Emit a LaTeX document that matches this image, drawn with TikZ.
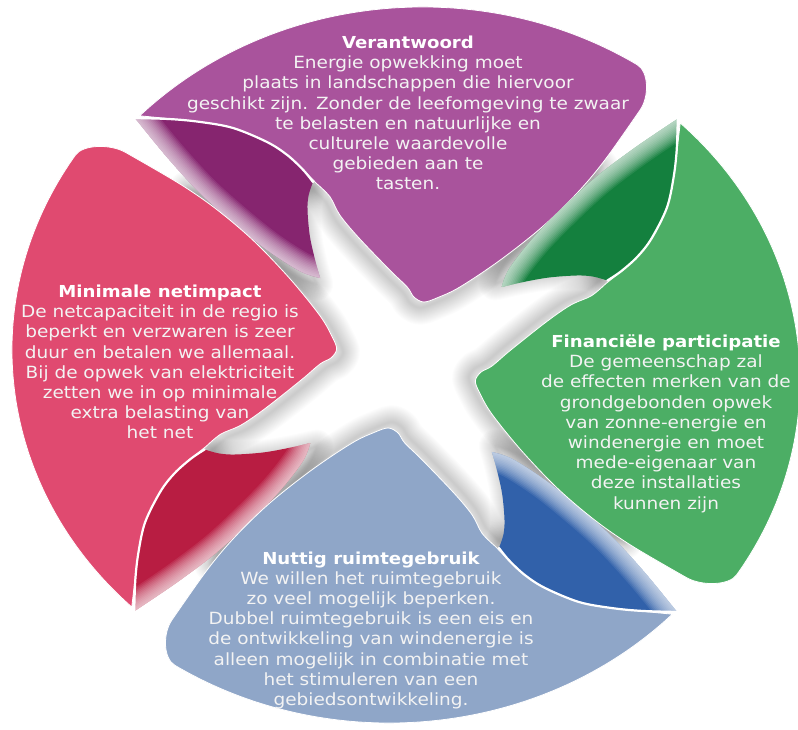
\documentclass[tikz,border=0pt]{standalone}
\usepackage{fontspec}
\setmainfont{DejaVu Sans}[FakeStretch=1.1]
\definecolor{pbody}{HTML}{A9539C}
\definecolor{pcurl}{HTML}{86256F}
\definecolor{gbody}{HTML}{4CAE65}
\definecolor{gcurl}{HTML}{14803E}
\definecolor{rbody}{HTML}{E04A70}
\definecolor{rcurl}{HTML}{B81D42}
\definecolor{bbody}{HTML}{8FA6C8}
\definecolor{bcurl}{HTML}{3161AA}
\definecolor{txtcol}{HTML}{F3F3F3}
\tikzset{
  bodytxt/.style={text=txtcol, font=\fontsize{16.8}{20.2}\selectfont, inner sep=0pt},
  headtxt/.style={text=white, font=\fontsize{16.5}{20.2}\selectfont\bfseries, inner sep=0pt},
  smoothline/.style={smooth, tension=0.55}
}
% petal template (normalized frame, purple orientation)
\newcommand\bodypath[1]{%
  \path[#1] (-0.676,0.696) arc[start angle=135.9, end angle=57, radius=1.0]
    .. controls (0.616,0.820) and (0.618,0.750) .. (0.594,0.712)
    -- plot[smoothline] coordinates {(0.594,0.712) (0.505,0.573) (0.434,0.480) (0.345,0.385) (0.239,0.293) (0.137,0.218) (0.08,0.188) (0.045,0.176) (0.02,0.19) (0.003,0.218) (-0.041,0.265) (-0.122,0.358) (-0.168,0.419) (-0.193,0.470) (-0.226,0.506)}
    -- plot[smoothline] coordinates {(-0.226,0.506) (-0.261,0.545) (-0.302,0.587) (-0.353,0.623) (-0.439,0.662) (-0.523,0.679) (-0.676,0.696)}
    -- cycle;}
\newcommand\curlpath[1]{%
  \path[#1] (-0.688,0.690)
    -- plot[smoothline] coordinates {(-0.688,0.690) (-0.600,0.687) (-0.523,0.679) (-0.439,0.662) (-0.353,0.623) (-0.302,0.587) (-0.261,0.545) (-0.236,0.511)}
    -- plot[smoothline] coordinates {(-0.236,0.511) (-0.247,0.475) (-0.250,0.433) (-0.244,0.360) (-0.230,0.290) (-0.218,0.243)}
    -- plot[smoothline] coordinates {(-0.218,0.243) (-0.269,0.262) (-0.353,0.321) (-0.439,0.397) (-0.523,0.480) (-0.607,0.581) (-0.688,0.690)}
    -- cycle;}
% inner edges only (for the soft shadow)
\newcommand\innerpath[1]{%
  \path[#1] plot[smoothline] coordinates {(0.505,0.573) (0.434,0.480) (0.345,0.385) (0.239,0.293) (0.137,0.218) (0.08,0.188) (0.045,0.176) (0.02,0.19) (0.003,0.218) (-0.041,0.265) (-0.122,0.358) (-0.168,0.419) (-0.193,0.470) (-0.226,0.506)};
  \path[#1] plot[smoothline] coordinates {(-0.236,0.511) (-0.247,0.475) (-0.250,0.433) (-0.244,0.360) (-0.230,0.290) (-0.218,0.243)}
    -- plot[smoothline] coordinates {(-0.218,0.243) (-0.269,0.262) (-0.353,0.321) (-0.439,0.397) (-0.523,0.480)};}
\newcommand\lowedge[1]{%
  \path[#1] plot[smoothline] coordinates {(-0.218,0.243) (-0.269,0.262) (-0.353,0.321) (-0.439,0.397) (-0.523,0.480) (-0.607,0.581) (-0.688,0.690)};}
\newcommand\whiteline[1]{%
  \path[#1] plot[smoothline] coordinates {(-0.695,0.690) (-0.600,0.687) (-0.523,0.679) (-0.439,0.662) (-0.353,0.623) (-0.302,0.587) (-0.261,0.545) (-0.236,0.511)};}
\newcommand\petal[3]{%
  \begin{scope}[rotate=#1]
    \bodypath{fill=#2, draw=white, line width=0.8pt}
    \curlpath{fill=#3}
    \begin{scope}
      \curlpath{clip}
      \foreach \w in {3,6,...,39} {\lowedge{draw=white, draw opacity=0.085, line width=\w pt, line cap=round}}
    \end{scope}
    \whiteline{draw=white, line width=2.2pt, line cap=round}
  \end{scope}}
\newcommand\textblock[5]{%
  \node[headtxt, anchor=base] (#1h) at (#2, 729-#3) {#4};
  \foreach[count=\i] \l in {#5} {\node[bodytxt, anchor=base] (#1\i) at (#2, 729-#3-\i*20.2) {\l};}
}
\begin{document}
\begin{tikzpicture}[x=1pt,y=1pt]
\fill[white] (0,0) rectangle (798,729);
\useasboundingbox (0,0) rectangle (798,729);
\begin{scope}[shift={(406,364)}, xscale=394, yscale=358]
  \begin{scope}
    \clip (0,0) circle[radius=0.95];
    \foreach \r in {0,90,180,270} {
      \begin{scope}[rotate=\r, shift={(-0.01,-0.016)}]
        \foreach \w in {2,4,...,34} {
          \innerpath{draw=black, draw opacity=0.010, line width=\w pt, line join=round, line cap=round}
        }
      \end{scope}
    }
  \end{scope}
  \petal{0}{pbody}{pcurl}
  \petal{90}{rbody}{rcurl}
  \petal{180}{bbody}{bcurl}
  \petal{270}{gbody}{gcurl}
\end{scope}
\textblock{pt}{408}{48.5}{Verantwoord}{Energie opwekking moet, plaats in landschappen die hiervoor, geschikt zijn. Zonder de leefomgeving te zwaar, te belasten en natuurlijke en, culturele waardevolle, gebieden aan te, tasten.}
\textblock{gt}{666}{347.5}{Financiële participatie}{De gemeenschap zal, de effecten merken van de, grondgebonden opwek, van zonne-energie en, windenergie en moet, mede-eigenaar van, deze installaties, kunnen zijn}
\textblock{rt}{160}{297.5}{Minimale netimpact}{De netcapaciteit in de regio is, beperkt en verzwaren is zeer, duur en betalen we allemaal., Bij de opwek van elektriciteit, zetten we in op minimale, extra belasting van, het net}
\textblock{bt}{371}{564}{Nuttig ruimtegebruik}{We willen het ruimtegebruik, zo veel mogelijk beperken., Dubbel ruimtegebruik is een eis en, de ontwikkeling van windenergie is, alleen mogelijk in combinatie met, het stimuleren van een, gebiedsontwikkeling.}
\end{tikzpicture}
\end{document}
